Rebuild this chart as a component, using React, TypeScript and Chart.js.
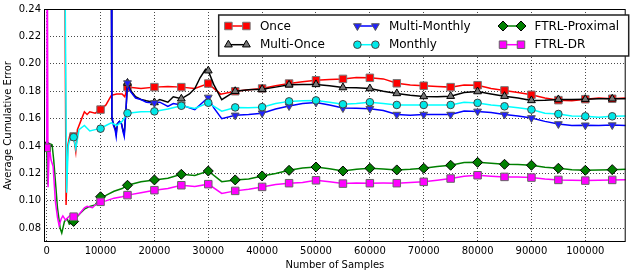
import React, { useEffect, useRef } from 'react';
import { Chart, registerables } from 'chart.js';
import { drawPoint } from 'chart.js/helpers';

Chart.register(...registerables);

const FONT = '"DejaVu Sans", "Liberation Sans", sans-serif';

const xTicks = [0, 10000, 20000, 30000, 40000, 50000, 60000, 70000, 80000, 90000, 100000];
const yTicks = [0.08, 0.1, 0.12, 0.14, 0.16, 0.18, 0.2, 0.22, 0.24];

const seriesNames = ['Once', 'Multi-Once', 'Multi-Monthly', 'Monthly', 'FTRL-Proximal', 'FTRL-DR'];

const onceX = [3300, 3600, 3900, 4300, 5000, 5400, 5700, 6500, 7000, 7500, 8000, 9000, 10000, 11000, 12000, 13000, 14000, 14500, 15000, 17500, 20000, 22500, 25000, 27500, 30000, 32300, 35000, 37500, 40000, 42500, 45000, 47500, 50000, 52500, 55000, 57500, 60000, 62500, 65000, 67500, 70000, 72500, 75000, 77500, 80000, 82500, 85000, 87500, 90000, 92500, 95000, 97500, 100000, 102500, 105000, 107500];
const onceY = [0.32, 0.097, 0.14, 0.148, 0.147, 0.136, 0.152, 0.16, 0.165, 0.163, 0.165, 0.164, 0.1666, 0.17, 0.177, 0.178, 0.178, 0.176, 0.183, 0.182, 0.183, 0.1835, 0.183, 0.182, 0.1856, 0.1779, 0.18, 0.181, 0.182, 0.184, 0.1856, 0.187, 0.188, 0.1885, 0.189, 0.19, 0.1898, 0.189, 0.1858, 0.1845, 0.184, 0.1835, 0.183, 0.1845, 0.1844, 0.182, 0.1806, 0.179, 0.1774, 0.175, 0.1735, 0.173, 0.1742, 0.175, 0.1745, 0.175];

const multiOnceX = [11950, 12100, 12400, 12700, 12900, 13100, 13500, 13900, 14200, 14400, 14700, 15000, 15500, 16500, 17500, 18500, 20000, 21000, 22500, 23500, 25000, 26500, 27500, 28500, 29500, 30000, 31000, 32500, 35000, 37500, 40000, 42500, 45000, 47500, 50000, 52500, 55000, 57500, 60000, 62500, 65000, 67500, 70000, 72500, 75000, 77500, 80000, 82500, 85000, 87500, 90000, 92500, 95000, 97500, 100000, 102500, 105000, 107500];
const multiOnceY = [0.32, 0.16, 0.156, 0.153, 0.149, 0.156, 0.158, 0.156, 0.151, 0.149, 0.165, 0.186, 0.181, 0.176, 0.174, 0.173, 0.1718, 0.174, 0.172, 0.176, 0.1745, 0.178, 0.182, 0.19, 0.196, 0.195, 0.185, 0.1738, 0.18, 0.181, 0.1815, 0.183, 0.1847, 0.185, 0.185, 0.184, 0.1827, 0.1825, 0.182, 0.18, 0.1784, 0.177, 0.1762, 0.176, 0.1764, 0.179, 0.1798, 0.178, 0.1764, 0.175, 0.1733, 0.1735, 0.174, 0.174, 0.1742, 0.1745, 0.1745, 0.1745];

const multiMonthlyX = [11950, 12100, 12400, 12700, 12900, 13100, 13500, 13900, 14200, 14400, 14700, 15000, 15500, 16500, 17500, 18500, 20000, 21000, 22500, 23500, 25000, 27500, 29000, 30000, 31000, 32500, 35000, 37500, 40000, 42500, 45000, 47500, 50000, 52500, 55000, 57500, 60000, 62500, 65000, 67500, 70000, 72500, 75000, 77500, 80000, 82500, 85000, 87500, 90000, 92500, 95000, 97500, 100000, 102500, 105000, 107500];
const multiMonthlyY = [0.32, 0.162, 0.155, 0.152, 0.147, 0.156, 0.158, 0.156, 0.15, 0.147, 0.165, 0.186, 0.18, 0.175, 0.174, 0.172, 0.1715, 0.172, 0.169, 0.171, 0.17, 0.1666, 0.172, 0.1755, 0.168, 0.16, 0.1624, 0.163, 0.164, 0.167, 0.1692, 0.171, 0.1718, 0.17, 0.1677, 0.1675, 0.1673, 0.166, 0.163, 0.1625, 0.163, 0.163, 0.163, 0.1655, 0.1653, 0.1645, 0.163, 0.162, 0.1605, 0.158, 0.1561, 0.155, 0.1552, 0.155, 0.1553, 0.155];

const monthlyX = [3300, 3700, 4000, 4300, 5000, 5400, 6000, 7000, 8000, 9000, 10000, 11000, 12000, 13000, 14000, 15000, 17500, 20000, 22500, 25000, 27500, 30000, 32500, 35000, 37500, 40000, 42500, 45000, 47500, 50000, 52500, 55000, 57500, 60000, 62500, 65000, 67500, 70000, 72500, 75000, 77500, 80000, 82500, 85000, 87500, 90000, 92500, 95000, 97500, 100000, 102500, 105000, 107500];
const monthlyY = [0.32, 0.106, 0.14, 0.145, 0.1465, 0.138, 0.152, 0.155, 0.151, 0.152, 0.1527, 0.155, 0.157, 0.155, 0.158, 0.164, 0.165, 0.1653, 0.167, 0.1694, 0.1675, 0.1716, 0.1655, 0.1682, 0.168, 0.1684, 0.171, 0.1726, 0.173, 0.1733, 0.172, 0.1705, 0.171, 0.172, 0.171, 0.17, 0.17, 0.17, 0.17, 0.17, 0.172, 0.1715, 0.17, 0.169, 0.168, 0.1666, 0.164, 0.1634, 0.162, 0.1617, 0.161, 0.1617, 0.162];

const ftrlProxX = [0, 150, 400, 1000, 1300, 1700, 2000, 2500, 2800, 3300, 3800, 4200, 5000, 6000, 7000, 8000, 9000, 10000, 11000, 12500, 14000, 15000, 17500, 20000, 22500, 25000, 27500, 30000, 32500, 35000, 37500, 40000, 42500, 45000, 47500, 50000, 52500, 55000, 57500, 60000, 62500, 65000, 67500, 70000, 72500, 75000, 77500, 80000, 82500, 85000, 87500, 90000, 92500, 95000, 97500, 100000, 102500, 105000, 107500];
const ftrlProxY = [0.14, 0.112, 0.142, 0.141, 0.13, 0.11, 0.095, 0.08, 0.0765, 0.085, 0.087, 0.083, 0.085, 0.09, 0.094, 0.096, 0.097, 0.103, 0.104, 0.107, 0.109, 0.1114, 0.114, 0.1153, 0.1165, 0.1194, 0.1185, 0.1218, 0.114, 0.1153, 0.116, 0.1182, 0.12, 0.1223, 0.124, 0.1247, 0.1235, 0.1218, 0.123, 0.1238, 0.1232, 0.1226, 0.123, 0.1238, 0.125, 0.126, 0.128, 0.1281, 0.1275, 0.1267, 0.1265, 0.126, 0.1245, 0.1238, 0.1228, 0.1223, 0.1225, 0.1228, 0.123];

const ftrlDrX = [0, 100, 250, 500, 800, 1200, 1600, 2000, 2300, 2700, 3000, 3500, 4000, 4500, 5000, 6000, 7000, 7500, 8500, 9000, 10000, 11000, 12500, 14000, 15000, 17500, 20000, 22500, 25000, 27500, 30000, 32500, 35000, 37500, 40000, 42500, 45000, 47500, 50000, 52500, 55000, 57500, 60000, 62500, 65000, 67500, 70000, 72500, 75000, 77500, 80000, 82500, 85000, 87500, 90000, 92500, 95000, 97500, 100000, 102500, 105000, 107500];
const ftrlDrY = [0.1387, 0.3, 0.11, 0.14, 0.13, 0.125, 0.1, 0.088, 0.082, 0.087, 0.089, 0.086, 0.088, 0.09, 0.0885, 0.09, 0.095, 0.096, 0.095, 0.097, 0.0993, 0.1, 0.102, 0.103, 0.1042, 0.106, 0.1078, 0.109, 0.1114, 0.1105, 0.1122, 0.1054, 0.1073, 0.1085, 0.1102, 0.112, 0.1129, 0.1135, 0.115, 0.114, 0.1126, 0.113, 0.1129, 0.113, 0.1129, 0.1135, 0.1139, 0.115, 0.1163, 0.118, 0.1187, 0.118, 0.1175, 0.1175, 0.117, 0.116, 0.1153, 0.115, 0.1148, 0.115, 0.1153, 0.1155];

const seriesX = [onceX, multiOnceX, multiMonthlyX, monthlyX, ftrlProxX, ftrlDrX];
const seriesY = [onceY, multiOnceY, multiMonthlyY, monthlyY, ftrlProxY, ftrlDrY];

const styles = [
  { color: '#ff0000', fill: '#ff0000', edge: '#777777', pointStyle: 'rect', radius: 5.3, rotation: 0 },
  { color: '#000000', fill: '#777777', edge: '#000000', pointStyle: 'triangle', radius: 4.5, rotation: 0 },
  { color: '#0000ff', fill: '#2020ff', edge: '#555555', pointStyle: 'triangle', radius: 4.5, rotation: 180 },
  { color: '#00ffff', fill: '#00e8e8', edge: '#444444', pointStyle: 'circle', radius: 3.8, rotation: 0 },
  { color: '#008000', fill: '#008000', edge: '#000000', pointStyle: 'rectRot', radius: 5, rotation: 0 },
  { color: '#ff00ff', fill: '#ff00ff', edge: '#666666', pointStyle: 'rect', radius: 5.3, rotation: 0 },
];

const framePlugin = {
  id: 'frameAndLegend',
  afterDraw(chart: any) {
    const ctx = chart.ctx as CanvasRenderingContext2D;
    const a = chart.chartArea;
    ctx.save();
    ctx.strokeStyle = '#000';
    ctx.lineWidth = 1;
    ctx.setLineDash([]);
    ctx.strokeRect(a.left + 0.5, a.top + 0.5, a.right - a.left - 1, a.bottom - a.top - 1);

    ctx.fillStyle = '#000';
    ctx.font = `10px ${FONT}`;
    ctx.textAlign = 'center';
    ctx.textBaseline = 'middle';
    ctx.fillText('Number of Samples', (a.left + a.right) / 2, 265.5);
    ctx.save();
    ctx.translate(8, (a.top + a.bottom) / 2);
    ctx.rotate(-Math.PI / 2);
    ctx.fillText('Average Cumulative Error', 0, 0);
    ctx.restore();

    const bx = a.right - 407;
    const by = a.top + 6;
    const bw = 410;
    const bh = 41;
    ctx.fillStyle = '#fff';
    ctx.fillRect(bx, by, bw, bh);
    ctx.strokeStyle = '#222';
    ctx.lineWidth = 1.5;
    ctx.strokeRect(bx, by, bw, bh);
    const cols = [9.7, 138.7, 284.3];
    const rows = [11, 29.7];
    ctx.font = `12px ${FONT}`;
    ctx.textAlign = 'left';
    ctx.textBaseline = 'middle';
    seriesNames.forEach((name, i) => {
      const col = Math.floor(i / 2);
      const row = i % 2;
      const x1 = bx + cols[col];
      const x2 = x1 + 18;
      const y = by + rows[row];
      const s = styles[i];
      ctx.strokeStyle = s.color;
      ctx.lineWidth = 1.5;
      ctx.beginPath();
      ctx.moveTo(x1, y);
      ctx.lineTo(x2, y);
      ctx.stroke();
      for (const px of [x1, x2]) {
        ctx.fillStyle = s.fill;
        ctx.strokeStyle = s.edge;
        ctx.lineWidth = 1;
        drawPoint(ctx, { pointStyle: s.pointStyle as any, radius: s.radius, rotation: s.rotation, borderWidth: 1 }, px, y);
      }
      ctx.fillStyle = '#000';
      ctx.fillText(name, x2 + 13.5, y + 0.5);
    });
    ctx.restore();
  },
};

export default function App() {
  const ref = useRef<HTMLCanvasElement | null>(null);
  useEffect(() => {
    if (!ref.current) return;
    const datasets = seriesNames.map((name, i) => {
      const s = styles[i];
      const isMarker = (c: any) => c.raw && c.raw.x % 5000 === 0;
      return {
        label: name,
        data: seriesX[i].map((x, j) => ({ x, y: seriesY[i][j] })),
        borderColor: s.color,
        borderWidth: 1.5,
        backgroundColor: s.fill,
        pointBackgroundColor: s.fill,
        pointBorderColor: s.edge,
        pointBorderWidth: 1,
        pointStyle: s.pointStyle,
        pointRotation: s.rotation,
        pointRadius: (c: any) => (isMarker(c) ? s.radius : 0),
        pointHoverRadius: 0,
        tension: 0,
        fill: false,
        clip: 0,
        order: seriesNames.length - i,
      };
    });
    const chart = new Chart(ref.current, {
      type: 'line',
      data: { datasets },
      options: {
        responsive: false,
        animation: false,
        devicePixelRatio: 1,
        layout: { padding: { left: 0, top: 7, right: 2, bottom: 0 } },
        plugins: { legend: { display: false }, tooltip: { enabled: false } },
        scales: {
          x: {
            type: 'linear',
            min: -500,
            max: 107500,
            afterBuildTicks: (sc: any) => {
              sc.ticks = xTicks.map((v) => ({ value: v }));
            },
            afterFit: (sc: any) => {
              sc.height = 30;
            },
            ticks: {
              callback: (v: any) => String(v),
              color: '#000',
              font: { family: FONT, size: 10 },
              padding: 3,
              maxRotation: 0,
              autoSkip: false,
            },
            grid: { color: 'rgba(0,0,0,0.8)', lineWidth: 0.9, drawTicks: false },
            border: { display: false, dash: [1, 2] },
          },
          y: {
            type: 'linear',
            min: 0.07,
            max: 0.24,
            afterBuildTicks: (sc: any) => {
              sc.ticks = yTicks.map((v) => ({ value: v }));
            },
            afterFit: (sc: any) => {
              sc.width = 44;
            },
            ticks: {
              callback: (v: any) => Number(v).toFixed(2),
              color: '#000',
              font: { family: FONT, size: 10 },
              padding: 3,
              autoSkip: false,
            },
            grid: { color: 'rgba(0,0,0,0.8)', lineWidth: 0.9, drawTicks: false },
            border: { display: false, dash: [1, 2] },
          },
        },
      } as any,
      plugins: [framePlugin],
    });
    return () => chart.destroy();
  }, []);
  return (
    <div style={{ position: 'absolute', left: 0, top: 0, width: 632, height: 272, background: '#fff' }}>
      <canvas ref={ref} width={632} height={272} style={{ display: 'block', width: 632, height: 272 }} />
    </div>
  );
}
